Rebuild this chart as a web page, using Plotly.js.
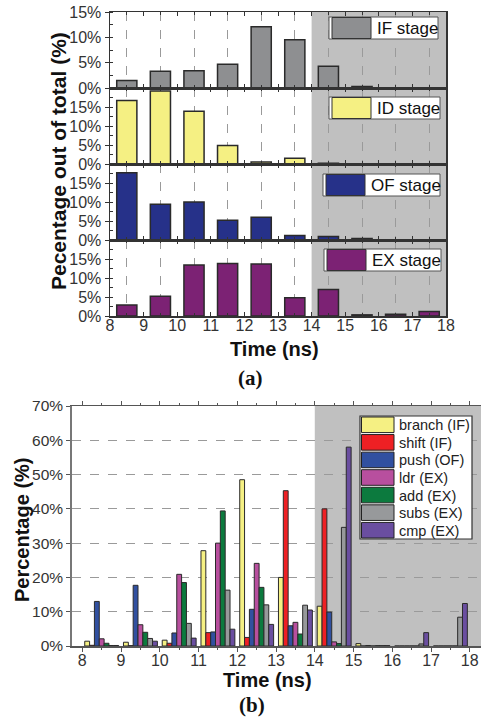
<!DOCTYPE html>
<html>
<head>
<meta charset="utf-8">
<script src="https://cdn.plot.ly/plotly-3.0.1.min.js"></script>
<style>html,body{margin:0;padding:0;background:#fff;}#chart{width:482px;height:717px;}</style>
</head>
<body>
<div id="chart"></div>
<script>
// ---------- data: panel (a) ----------
const timesA = [8.5, 9.5, 10.5, 11.5, 12.5, 13.5, 14.5, 15.5, 16.5, 17.5];
const stageNames = ["IF stage", "ID stage", "OF stage", "EX stage"];
const ifStage = [1.5, 3.3, 3.4, 4.7, 12.1, 9.5, 4.3, 0.3, 0, 0];
const idStage = [16.7, 19.2, 13.9, 4.9, 0.5, 1.5, 0.2, 0, 0, 0];
const ofStage = [17.7, 9.4, 10.0, 5.2, 6.0, 1.2, 0.9, 0.4, 0, 0];
const exStage = [2.9, 5.2, 13.4, 13.8, 13.7, 4.8, 7.0, 0.3, 0.45, 1.2];
const stageColors = ["#8e8f91", "#f5f083", "#263189", "#7c2274"];
const xTicksA = [8, 9, 10, 11, 12, 13, 14, 15, 16, 17, 18];
const yTicksA = [0, 5, 10, 15];
const yTickTextA = ["0%", "5%", "10%", "15%"];

// ---------- data: panel (b) ----------
const timesB = [8.5, 9.5, 10.5, 11.5, 12.5, 13.5, 14.5, 15.5, 16.5, 17.5];
const instrNames = ["branch (IF)", "shift (IF)", "push (OF)", "ldr (EX)", "add (EX)", "subs (EX)", "cmp (EX)"];
const branchIF = [1.4, 1.1, 1.7, 27.8, 48.5, 20.0, 11.6, 0.7, 0, 0];
const shiftIF  = [0.2, 0.1, 0.8, 3.9, 2.5, 45.3, 40.0, 0, 0, 0];
const pushOF   = [13.0, 17.7, 3.8, 4.1, 10.7, 5.9, 9.9, 0.15, 0, 0];
const ldrEX    = [2.1, 6.2, 20.9, 30.0, 24.1, 6.9, 1.2, 0, 0, 0];
const addEX    = [0.8, 4.0, 18.5, 39.4, 17.1, 3.5, 0.7, 0.1, 0, 0];
const subsEX   = [0.15, 2.2, 6.6, 16.3, 12.0, 11.9, 34.6, 0.1, 0.6, 8.4];
const cmpEX    = [0.15, 1.4, 2.3, 4.9, 6.3, 10.5, 58.0, 0.1, 3.9, 12.4];
const instrColors = ["#f5f083", "#ee2024", "#3150a0", "#b84f9e", "#0c7a3e", "#97999b", "#6a4ea0"];
const yTicksB = [0, 10, 20, 30, 40, 50, 60, 70];
const yTickTextB = ["0%", "10%", "20%", "30%", "40%", "50%", "60%", "70%"];

// ---------- geometry helpers ----------
const W = 482, H = 717;
const PX = x => x / W;
const PY = y => 1 - y / H;
const FONT = "Arial";
const SERIF = "Times New Roman";
const TICKCOL = "#333";

const traces = [];
const layout = {
  width: W, height: H,
  margin: {l: 0, r: 0, t: 0, b: 0},
  paper_bgcolor: "#fff", plot_bgcolor: "#fff",
  showlegend: false,
  barmode: "group", bargap: 0.125, bargroupgap: 0,
  font: {family: FONT, color: TICKCOL},
  shapes: [], annotations: []
};

// ----- panel (a): four stacked subplots -----
const stageData = [ifStage, idStage, ofStage, exStage];
const panelTops = [12, 88, 164, 240];
const panelH = 76;
const aLeft = 110, aRight = 446;
const stageRanges = [[0, 15], [0, 20], [0, 20], [0, 20]];
for (let i = 0; i < 4; i++) {
  const n = i + 1;
  const xa = "xaxis" + (n === 1 ? "" : n), ya = "yaxis" + (n === 1 ? "" : n);
  const xr = "x" + (n === 1 ? "" : n), yr = "y" + (n === 1 ? "" : n);
  traces.push({
    type: "bar", x: timesA, y: stageData[i], name: stageNames[i],
    xaxis: xr, yaxis: yr, width: 0.6,
    marker: {color: stageColors[i], line: {color: "#2a2a2a", width: 1.5}},
    hoverinfo: "x+y"
  });
  layout[xa] = {
    domain: [PX(aLeft), PX(aRight)], range: [8, 18], anchor: yr,
    tickvals: xTicksA, ticktext: xTicksA.map(String),
    showticklabels: i === 3, ticks: "inside", ticklen: 4, tickcolor: "#333",
    ticklabelstandoff: -6,
    tickfont: {size: 16, color: TICKCOL, family: FONT},
    showgrid: false, zeroline: false,
    showline: true, linecolor: "#333", linewidth: 1.5, mirror: "ticks",
    minor: {tick0: 8.5, dtick: 1, showgrid: true, gridcolor: "#9a9a9a", griddash: "dash", gridwidth: 1, ticks: "inside", ticklen: 3, tickcolor: "#333"},
    fixedrange: true
  };
  layout[ya] = {
    domain: [PY(panelTops[i] + panelH), PY(panelTops[i])], range: stageRanges[i], anchor: xr,
    tickvals: yTicksA, ticktext: yTickTextA,
    ticks: "outside", ticklen: 4, tickcolor: "#333",
    tickfont: {size: 16, color: TICKCOL, family: FONT},
    showgrid: false, zeroline: false,
    showline: true, linecolor: "#333", linewidth: 1.5, mirror: true,
    minor: {dtick: 2.5, ticks: "inside", ticklen: 3, tickcolor: "#333"},
    fixedrange: true
  };
  layout.shapes.push({type: "rect", xref: xr, yref: yr + " domain", x0: 14, x1: 18, y0: 0, y1: 1,
    fillcolor: "#c0c0c0", line: {width: 0}, layer: "below"});
}
// custom legends for panel (a)
const legA = [
  {top: 17, left: 329, right: 438},
  {top: 97, left: 329, right: 440},
  {top: 174, left: 323, right: 440},
  {top: 249, left: 324, right: 441}
];
legA.forEach((g, i) => {
  const h = 22;
  layout.shapes.push({type: "rect", xref: "paper", yref: "paper",
    x0: PX(g.left), x1: PX(g.right), y0: PY(g.top + h), y1: PY(g.top),
    fillcolor: "#fff", line: {color: "#555", width: 1}, layer: "above"});
  layout.shapes.push({type: "rect", xref: "paper", yref: "paper",
    x0: PX(g.left + 3), x1: PX(g.left + 42), y0: PY(g.top + h - 0.5), y1: PY(g.top + 0.5),
    fillcolor: stageColors[i], line: {color: "#333", width: 1}, layer: "above"});
  layout.annotations.push({xref: "paper", yref: "paper", x: PX(g.left + 46), y: PY(g.top + h / 2 + 0.5),
    xanchor: "left", yanchor: "middle", showarrow: false, text: stageNames[i],
    font: {size: 17, color: "#111", family: FONT}});
});
// titles panel (a)
layout.annotations.push({xref: "paper", yref: "paper", x: PX(59), y: PY(161), textangle: -90,
  xanchor: "center", yanchor: "middle", showarrow: false, text: "<b>Pecentage out of total (%)</b>",
  font: {size: 21, color: "#111", family: FONT}});
layout.annotations.push({xref: "paper", yref: "paper", x: PX(274), y: PY(349),
  xanchor: "center", yanchor: "middle", showarrow: false, text: "<b>Time (ns)</b>",
  font: {size: 20, color: "#111", family: FONT}});
layout.annotations.push({xref: "paper", yref: "paper", x: PX(250), y: PY(378),
  xanchor: "center", yanchor: "middle", showarrow: false, text: "<b>(a)</b>",
  font: {size: 21, color: "#111", family: SERIF}});

// ----- panel (b) -----
const instrData = [branchIF, shiftIF, pushOF, ldrEX, addEX, subsEX, cmpEX];
instrData.forEach((d, i) => {
  traces.push({
    type: "bar", x: timesB, y: d, name: instrNames[i], xaxis: "x5", yaxis: "y5",
    marker: {color: instrColors[i], line: {color: "#2a2a2a", width: 1}},
    hoverinfo: "name+x+y"
  });
});
const bRange = [7.726, 18.29];
layout.xaxis5 = {
  domain: [PX(71.7), PX(481)], range: bRange, anchor: "y5",
  tickvals: xTicksA, ticktext: xTicksA.map(String),
  ticks: "outside", ticklen: 4, tickcolor: "#555",
  ticklabelstandoff: -5,
  tickfont: {size: 16, color: TICKCOL, family: FONT},
  showgrid: false, zeroline: false,
  showline: true, linecolor: "#555", linewidth: 1.5, mirror: "ticks",
  minor: {dtick: 0.5, ticks: "outside", ticklen: 2, tickcolor: "#555"},
  fixedrange: true
};
layout.yaxis5 = {
  domain: [PY(646), PY(406)], range: [0, 70], anchor: "x5",
  tickvals: yTicksB, ticktext: yTickTextB,
  ticks: "outside", ticklen: 4, tickcolor: "#555",
  tickfont: {size: 15.5, color: TICKCOL, family: FONT},
  showgrid: true, gridcolor: "#9a9a9a", griddash: "dash", gridwidth: 1,
  zeroline: false, showline: true, linecolor: "#777", linewidth: 1.5,
  fixedrange: true
};
layout.shapes.push({type: "rect", xref: "x5", yref: "y5 domain", x0: 14, x1: bRange[1], y0: 0, y1: 1,
  fillcolor: "#c0c0c0", line: {width: 0}, layer: "below"});
// custom legend panel (b)
const lbTop = 416, lbBot = 539, lbLeft = 360, lbRight = 472;
const rowH = (lbBot - lbTop) / instrNames.length;
layout.shapes.push({type: "rect", xref: "paper", yref: "paper",
  x0: PX(lbLeft), x1: PX(lbRight), y0: PY(lbBot), y1: PY(lbTop),
  fillcolor: "#fff", line: {color: "#333", width: 1.2}, layer: "above"});
instrNames.forEach((nm, i) => {
  const cy = lbTop + rowH * (i + 0.5);
  layout.shapes.push({type: "rect", xref: "paper", yref: "paper",
    x0: PX(lbLeft + 1.5), x1: PX(lbLeft + 34), y0: PY(cy + 7.8), y1: PY(cy - 7.8),
    fillcolor: instrColors[i], line: {color: "#222", width: 1}, layer: "above"});
  layout.annotations.push({xref: "paper", yref: "paper", x: PX(lbLeft + 37), y: PY(cy + 0.5),
    xanchor: "left", yanchor: "middle", showarrow: false, text: nm,
    font: {size: 14.5, color: "#222", family: FONT}});
});
// titles panel (b)
layout.annotations.push({xref: "paper", yref: "paper", x: PX(22), y: PY(530), textangle: -90,
  xanchor: "center", yanchor: "middle", showarrow: false, text: "<b>Percentage (%)</b>",
  font: {size: 20, color: "#111", family: FONT}});
layout.annotations.push({xref: "paper", yref: "paper", x: PX(267), y: PY(680),
  xanchor: "center", yanchor: "middle", showarrow: false, text: "<b>Time (ns)</b>",
  font: {size: 20, color: "#111", family: FONT}});
layout.annotations.push({xref: "paper", yref: "paper", x: PX(252), y: PY(705),
  xanchor: "center", yanchor: "middle", showarrow: false, text: "<b>(b)</b>",
  font: {size: 21, color: "#111", family: SERIF}});

Plotly.newPlot("chart", traces, layout, {displayModeBar: false, staticPlot: true});
</script>
</body>
</html>
